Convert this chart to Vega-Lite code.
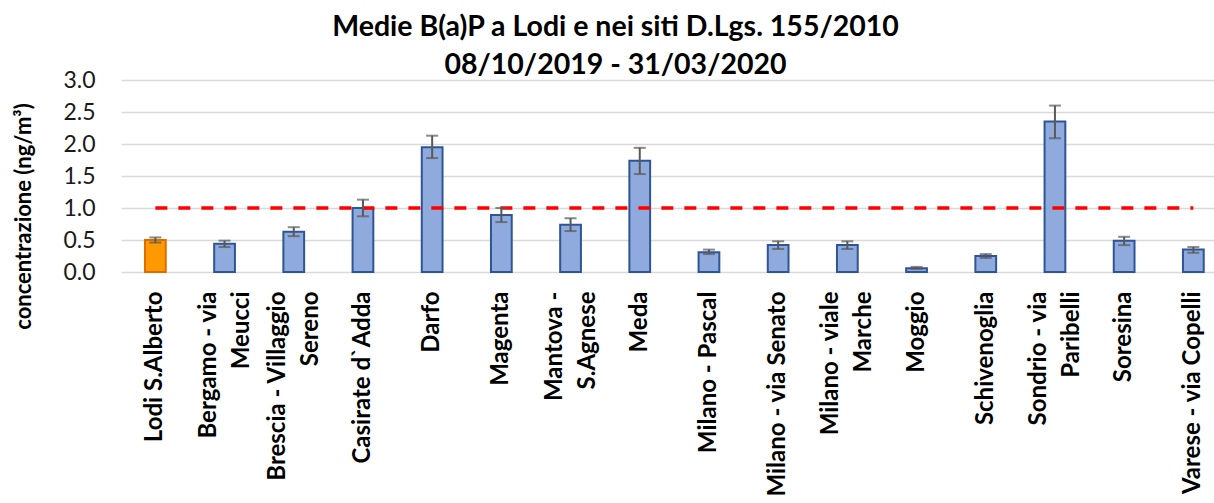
{
  "$schema": "https://vega.github.io/schema/vega-lite/v6.json",
  "autosize": {"type": "none"},
  "padding": {"left": 121, "top": 80, "right": 0, "bottom": 231},
  "width": 1093,
  "height": 192,
  "background": "white",
  "config": {
    "view": {"stroke": null},
    "font": "Lato"
  },
  "title": {
    "text": ["Medie B(a)P a Lodi e nei siti D.Lgs. 155/2010", "08/10/2019 - 31/03/2020"],
    "font": "Lato",
    "fontSize": 28.5,
    "fontWeight": "bold",
    "color": "#000000",
    "lineHeight": 38,
    "anchor": "middle",
    "dx": -52,
    "offset": -10
  },
  "data": {
    "values": [
      {"site": "Lodi S.Alberto", "group": "Lodi", "value": 0.50, "lo": 0.46, "hi": 0.54},
      {"site": "Bergamo - via Meucci", "group": "altri", "value": 0.44, "lo": 0.39, "hi": 0.49},
      {"site": "Brescia - Villaggio Sereno", "group": "altri", "value": 0.63, "lo": 0.56, "hi": 0.70},
      {"site": "Casirate d`Adda", "group": "altri", "value": 1.00, "lo": 0.87, "hi": 1.13},
      {"site": "Darfo", "group": "altri", "value": 1.95, "lo": 1.78, "hi": 2.13},
      {"site": "Magenta", "group": "altri", "value": 0.89, "lo": 0.78, "hi": 1.00},
      {"site": "Mantova - S.Agnese", "group": "altri", "value": 0.74, "lo": 0.64, "hi": 0.84},
      {"site": "Meda", "group": "altri", "value": 1.74, "lo": 1.53, "hi": 1.94},
      {"site": "Milano - Pascal", "group": "altri", "value": 0.31, "lo": 0.28, "hi": 0.35},
      {"site": "Milano - via Senato", "group": "altri", "value": 0.42, "lo": 0.36, "hi": 0.48},
      {"site": "Milano - viale Marche", "group": "altri", "value": 0.42, "lo": 0.36, "hi": 0.48},
      {"site": "Moggio", "group": "altri", "value": 0.06, "lo": 0.05, "hi": 0.08},
      {"site": "Schivenoglia", "group": "altri", "value": 0.25, "lo": 0.22, "hi": 0.28},
      {"site": "Sondrio - via Paribelli", "group": "altri", "value": 2.35, "lo": 2.09, "hi": 2.60},
      {"site": "Soresina", "group": "altri", "value": 0.49, "lo": 0.42, "hi": 0.55},
      {"site": "Varese - via Copelli", "group": "altri", "value": 0.35, "lo": 0.30, "hi": 0.39}
    ]
  },
  "resolve": {"axis": {"y": "independent"}},
  "encoding": {
    "x": {
      "field": "site",
      "type": "nominal",
      "sort": null,
      "scale": {"paddingInner": 0.70, "paddingOuter": 0.2475, "align": 0.70},
      "axis": {
        "title": null,
        "labelAngle": -90,
        "labelAlign": "right",
        "labelBaseline": "middle",
        "labelFont": "Lato",
        "labelFontSize": 24,
        "labelFontWeight": "bold",
        "labelColor": "#000000",
        "labelLineHeight": 33,
        "labelPadding": 19,
        "labelLimit": 400,
        "labelOverlap": false,
        "labelOffset": {
          "condition": {
            "test": "indexof(['Bergamo - via Meucci', 'Brescia - Villaggio Sereno', 'Mantova - S.Agnese', 'Milano - viale Marche', 'Sondrio - via Paribelli'], datum.value) >= 0",
            "value": -16
          },
          "value": 0
        },
        "domain": false,
        "ticks": false,
        "grid": false,
        "labelExpr": "datum.label == 'Bergamo - via Meucci' ? ['Bergamo - via', 'Meucci'] : datum.label == 'Brescia - Villaggio Sereno' ? ['Brescia - Villaggio', 'Sereno'] : datum.label == 'Mantova - S.Agnese' ? ['Mantova -', 'S.Agnese'] : datum.label == 'Milano - viale Marche' ? ['Milano - viale', 'Marche'] : datum.label == 'Sondrio - via Paribelli' ? ['Sondrio - via', 'Paribelli'] : datum.label"
      }
    }
  },
  "layer": [
    {
      "mark": {"type": "bar", "strokeWidth": 2},
      "encoding": {
        "y": {
          "field": "value",
          "type": "quantitative",
          "scale": {"domain": [0, 3], "nice": false},
          "axis": {
            "title": "concentrazione (ng/m³)",
            "titleFont": "Lato",
            "titleFontSize": 22,
            "titleFontWeight": "bold",
            "titleColor": "#000000",
            "titleAngle": -90,
            "titleAlign": "center",
            "titleBaseline": "middle",
            "titleX": -98,
            "titleY": 136,
            "values": [0, 0.5, 1, 1.5, 2, 2.5, 3],
            "format": ".1f",
            "labelFont": "Lato",
            "labelFontSize": 23,
            "labelColor": "#1a1a1a",
            "labelPadding": 26,
            "labelOverlap": false,
            "domain": false,
            "ticks": false,
            "grid": true,
            "gridColor": "#D9D9D9",
            "gridWidth": 1.5
          }
        },
        "fill": {
          "field": "group",
          "type": "nominal",
          "scale": {"domain": ["Lodi", "altri"], "range": ["#FF9900", "#8FAADC"]},
          "legend": null
        },
        "stroke": {
          "field": "group",
          "type": "nominal",
          "scale": {"domain": ["Lodi", "altri"], "range": ["#E06C00", "#2F5597"]},
          "legend": null
        }
      }
    },
    {
      "mark": {"type": "line", "color": "#FF0000", "strokeWidth": 3.5, "strokeDash": [12, 11]},
      "encoding": {
        "y": {"datum": 1, "axis": null}
      }
    },
    {
      "mark": {"type": "rule", "color": "#595959", "strokeWidth": 2},
      "encoding": {
        "y": {"field": "lo", "type": "quantitative", "axis": null},
        "y2": {"field": "hi"}
      }
    },
    {
      "mark": {"type": "tick", "color": "#595959", "thickness": 2, "size": 12},
      "encoding": {
        "y": {"field": "lo", "type": "quantitative", "axis": null}
      }
    },
    {
      "mark": {"type": "tick", "color": "#595959", "thickness": 2, "size": 12},
      "encoding": {
        "y": {"field": "hi", "type": "quantitative", "axis": null}
      }
    }
  ]
}
